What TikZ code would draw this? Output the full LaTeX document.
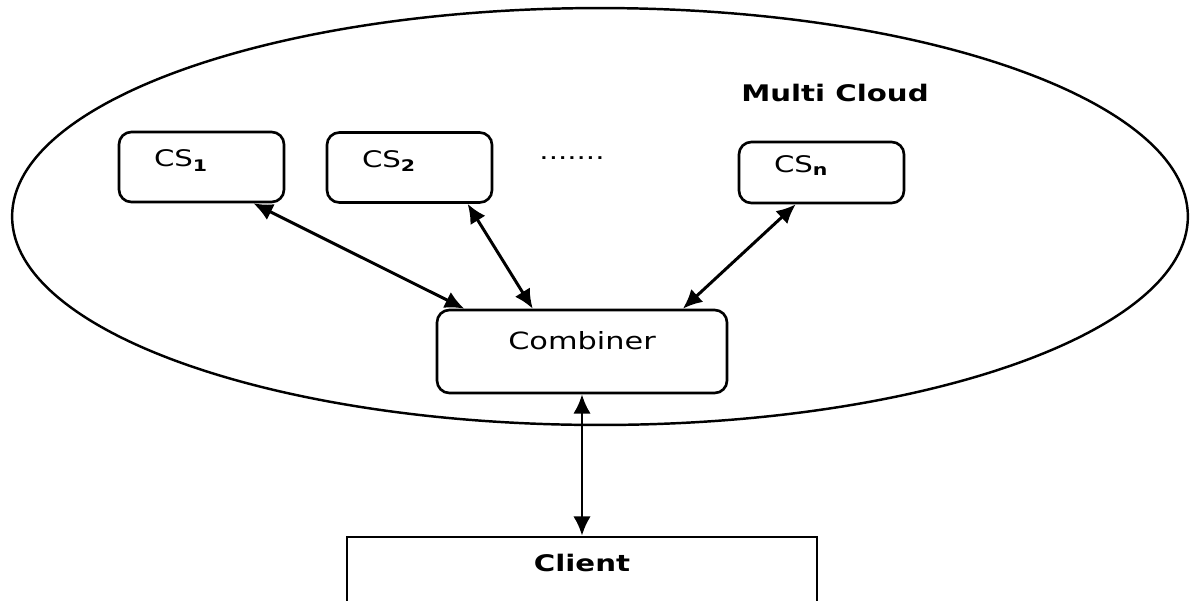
\documentclass[tikz,border=0pt]{standalone}
\usepackage{fontspec}
\setmainfont{DejaVu Sans}[FakeStretch=1.28]
\usepackage{tikz}
\usetikzlibrary{
  % enables the ellipse shape
  shapes.geometric,%
  arrows.meta,%
  positioning
}
\tikzset{>={Latex[length=11pt,width=10pt]}}
\tikzset{font=\fontsize{13}{15}\selectfont}
\tikzset{box/.style={draw, line width=1.5pt, rounded corners=7pt},
  server/.style={box, minimum width=3.3cm, minimum height=1.4cm,
    text width=1.9cm, inner xsep=0.7cm, align=left, text depth=10pt}}

\begin{document}
\begin{tikzpicture}[x=0.02cm, y=-0.02cm]
          \useasboundingbox (0,0) rectangle (1191,600);
          \node[draw, ellipse, line width=1.4pt, minimum width=23.52cm, minimum height=8.34cm] (cloud) at (600,216.5) {};
          \node[font=\fontsize{13}{15}\selectfont\bfseries] (title) at (835,93) {Multi Cloud};
          \node[server] (cs1) at (201.5,167) {CS\textsubscript{\textbf{1}}};
          \node[server] (cs2) at (409.5,167.5) {CS\textsubscript{\textbf{2}}};
          \node (dots) at (572,158) {.......};
          \node[server, minimum height=1.22cm] (csn) at (821.5,172.5) {CS\textsubscript{\textbf{n}}};
          \node[box, minimum width=5.8cm, minimum height=1.66cm, text depth=12pt, font=\fontsize{13.5}{15}\selectfont] (comb) at (582,351.5) {Combiner};
          \node[draw, line width=1.5pt, minimum width=9.4cm, minimum height=2cm, text depth=28pt, font=\fontsize{13}{15}\selectfont\bfseries] (client) at (582,587) {Client};
          \draw[<->, line width=1.7pt] (cs1.-35) -- (comb.160);
          \draw[<->, line width=1.7pt] (cs2.-32) -- (comb.139);
          \draw[<->, line width=1.7pt] (csn.231) -- (comb.23);
          \draw[<->, line width=1.7pt] (comb.south) -- (client.north);
        \end{tikzpicture}
\end{document}
